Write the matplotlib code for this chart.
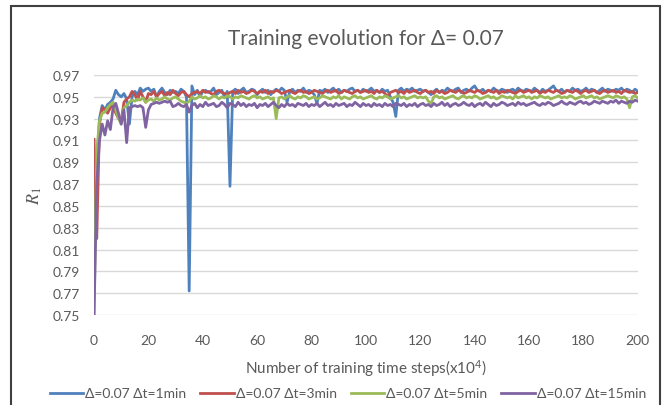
import matplotlib.pyplot as plt
import numpy as np
from matplotlib.patches import Rectangle

# R1 values (x1000), one per step 0..200 (x10^4)
blue = [835, 885, 930, 942, 938, 943, 945, 948, 956, 952, 950, 953, 948, 925, 950, 955, 952, 958, 955, 957, 958,
        955, 957, 950, 955, 958, 954, 952, 956, 954, 955, 953, 957, 955, 950, 772, 960, 952, 956, 950, 955,
        956, 954, 955, 958, 952, 954, 956, 950, 955, 868, 955, 957, 953, 956, 958, 954, 955, 957, 956, 952,
        955, 957, 954, 956, 952, 955, 957, 955, 958, 956, 945, 955, 957, 954, 956, 955, 958, 954, 956, 955,
        952, 944, 956, 955, 957, 954, 956, 958, 955, 957, 954, 956, 955, 957, 958, 955, 956, 954, 957, 955,
        956, 958, 955, 956, 954, 957, 955, 956, 950, 945, 932, 956, 958, 955, 957, 956, 958, 955, 956, 957,
        955, 956, 954, 952, 955, 957, 954, 956, 955, 958, 956, 955, 957, 958, 954, 956, 957, 955, 958, 960,
        956, 955, 957, 954, 956, 955, 958, 956, 955, 957, 956, 954, 956, 957, 955, 958, 956, 955, 957, 956,
        955, 958, 956, 954, 957, 955, 956, 958, 960, 956, 955, 957, 954, 956, 955, 958, 956, 957, 955, 956,
        958, 955, 957, 956, 954, 956, 958, 955, 957, 956, 955, 957, 956, 958, 955, 957, 956, 954, 957, 955]
red = [911, 820, 925, 940, 938, 935, 940, 942, 935, 930, 928, 945, 948, 950, 955, 952, 947, 955, 950, 945, 953,
       952, 955, 950, 953, 955, 951, 954, 952, 956, 953, 951, 954, 955, 952, 950, 953, 954, 955, 953, 956,
       954, 955, 953, 952, 955, 956, 954, 953, 952, 954, 955, 953, 956, 954, 955, 953, 954, 956, 955, 953,
       955, 954, 956, 953, 955, 954, 956, 955, 953, 954, 955, 956, 954, 953, 955, 956, 954, 955, 953, 954,
       956, 955, 954, 953, 955, 956, 954, 955, 956, 953, 954, 956, 955, 954, 953, 955, 956, 954, 955, 956,
       954, 955, 953, 956, 954, 955, 953, 950, 954, 955, 956, 954, 955, 953, 956, 954, 955, 956, 954, 953,
       955, 956, 954, 955, 953, 956, 954, 955, 953, 954, 956, 955, 954, 956, 955, 953, 954, 956, 955, 954,
       956, 955, 953, 954, 956, 955, 954, 956, 953, 955, 954, 956, 955, 954, 953, 955, 956, 954, 955, 956,
       954, 955, 956, 953, 955, 954, 956, 955, 954, 956, 955, 953, 954, 956, 955, 954, 956, 955, 953, 955,
       956, 954, 955, 956, 954, 953, 955, 956, 954, 955, 956, 954, 955, 953, 956, 955, 954, 955, 953, 954]
green = [750, 900, 928, 935, 936, 940, 943, 945, 938, 930, 925, 940, 942, 945, 947, 946, 948, 947, 949, 945, 947,
         948, 946, 949, 947, 948, 950, 948, 947, 949, 950, 948, 946, 945, 944, 946, 950, 948, 949, 951, 949,
         950, 948, 949, 951, 950, 948, 950, 949, 951, 950, 948, 950, 949, 951, 950, 949, 948, 950, 951, 949,
         950, 948, 949, 950, 948, 949, 930, 949, 950, 948, 950, 951, 949, 948, 950, 949, 951, 950, 948, 949,
         950, 948, 949, 951, 950, 949, 948, 950, 949, 951, 948, 950, 949, 948, 950, 951, 949, 950, 948, 949,
         950, 951, 949, 948, 950, 949, 951, 950, 948, 949, 950, 951, 949, 950, 948, 949, 950, 951, 949, 950,
         949, 950, 946, 944, 950, 951, 949, 950, 948, 949, 950, 951, 949, 948, 950, 951, 949, 950, 949, 951,
         950, 948, 949, 950, 951, 949, 950, 948, 949, 951, 950, 949, 950, 948, 951, 949, 950, 951, 949, 950,
         948, 950, 949, 951, 950, 949, 950, 948, 949, 950, 951, 949, 950, 949, 951, 950, 948, 949, 950, 951,
         949, 950, 951, 949, 950, 948, 949, 950, 951, 950, 949, 951, 950, 949, 950, 948, 940, 950, 951, 949]
purple = [750, 870, 910, 925, 915, 928, 920, 940, 944, 935, 925, 938, 908, 940, 941, 942, 941, 942, 940, 922, 938,
          943, 944, 945, 944, 945, 946, 945, 946, 941, 942, 944, 942, 941, 943, 936, 942, 944, 940, 943, 941,
          945, 942, 943, 944, 941, 942, 945, 943, 940, 944, 943, 941, 945, 942, 944, 941, 943, 942, 944, 940,
          943, 942, 944, 941, 943, 945, 942, 940, 943, 941, 944, 942, 943, 941, 944, 943, 942, 944, 941, 943,
          942, 944, 941, 943, 945, 942, 943, 941, 944, 942, 943, 944, 941, 943, 942, 945, 943, 941, 944, 942,
          943, 941, 944, 942, 943, 941, 944, 942, 943, 941, 944, 943, 942, 944, 941, 943, 942, 944, 941, 943,
          944, 942, 943, 941, 944, 942, 943, 945, 942, 944, 941, 943, 944, 942, 943, 945, 943, 942, 944, 941,
          943, 944, 942, 945, 943, 941, 944, 942, 943, 945, 944, 942, 943, 944, 942, 945, 943, 944, 942, 943,
          944, 945, 943, 942, 944, 943, 945, 944, 942, 943, 944, 946, 944, 943, 945, 944, 943, 945, 946, 944,
          945, 943, 944, 946, 945, 944, 946, 945, 944, 946, 945, 947, 944, 946, 945, 944, 946, 945, 947, 946]

labels = ['Δ=0.07 Δt=1min', 'Δ=0.07 Δt=3min', 'Δ=0.07 Δt=5min', 'Δ=0.07 Δt=15min']
colors = ['#4F81BD', '#C0504D', '#9BBB59', '#8064A2']

plt.rcParams['font.family'] = ['Lato', 'DejaVu Sans']
plt.rcParams['mathtext.fontset'] = 'stix'
txt = '#595959'

fig = plt.figure(figsize=(6.65, 4.06), dpi=100)
ax = fig.add_axes([0.1414, 0.2217, 0.8176, 0.5911])

for vals, lab, c in zip([blue, red, green, purple], labels, colors):
    steps = np.arange(len(vals))
    ax.plot(steps, np.array(vals) / 1000.0, color=c, lw=2.0, label=lab)

ax.set_xlim(0, 200)
ax.set_ylim(0.75, 0.97)
ax.set_xticks(np.arange(0, 201, 20))
ax.set_yticks(np.arange(0.75, 0.971, 0.02))
ax.set_yticklabels(['%.2f' % v for v in np.arange(0.75, 0.971, 0.02)])
ax.grid(axis='y', color='#D9D9D9', lw=1)
ax.set_axisbelow(True)
for s in ax.spines.values():
    s.set_visible(False)
ax.tick_params(length=0, labelsize=10, colors=txt)
ax.tick_params(axis='x', pad=14)
ax.tick_params(axis='y', pad=10)

ax.set_title('Training evolution for Δ= 0.07', fontsize=15, color=txt, pad=22)
ax.set_xlabel('Number of training time steps(x10$^{\\mathregular{4}}$)', fontsize=11, color=txt, labelpad=8)
ax.set_ylabel('$R_1$', fontsize=13, color=txt, labelpad=6)

ax.legend(loc='upper center', bbox_to_anchor=(0.467, -0.25), ncol=4, frameon=False,
          fontsize=10, labelcolor=txt, handlelength=2.4, handletextpad=0.15, columnspacing=1.0)

fig.patches.append(Rectangle((11 / 665, -0.05), 649 / 665, 1.05 - 7 / 406, transform=fig.transFigure,
                             fill=False, edgecolor='#404040', lw=1.5))

fig.savefig('out.png', dpi=100)
